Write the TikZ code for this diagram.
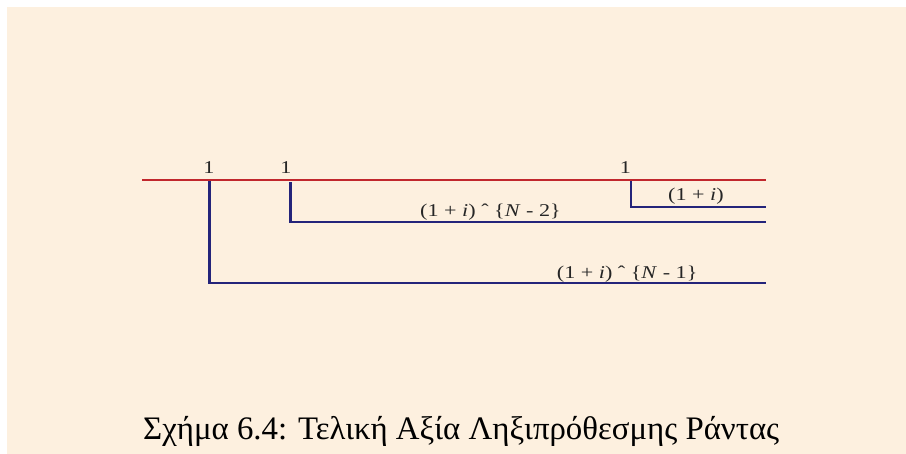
\documentclass[tikz,border=0pt]{standalone}
\usepackage{fontspec}
\usepackage{graphicx}
\newfontfamily\labfont{Liberation Serif}
\newfontfamily\capfont{Liberation Serif}
\definecolor{bgpeach}{HTML}{FDF0DF}
\definecolor{flowred}{HTML}{C1272D}
\definecolor{flowblue}{HTML}{24247A}
\newcommand\lbltext[1]{\scalebox{1.23}[1]{\labfont\fontsize{18}{18}\selectfont #1}}
\tikzset{
  timeline/.style={draw=flowred, line width=2pt},
  flowline/.style={draw=flowblue, line width=2.3pt, line join=miter},
  lbl/.style={inner sep=0pt, text=black!85, anchor=base},
  lblw/.style={inner sep=0pt, text=black!85, anchor=base west},
}
\begin{document}
\begin{tikzpicture}[x=1pt,y=-1pt]
\useasboundingbox (0,0) rectangle (906,454);
\fill[white] (0,0) rectangle (906,454);
\fill[bgpeach] (7,7) rectangle (906,454);
% coordinates
\coordinate (r0) at (142,180);
\coordinate (r1) at (766,180);
\coordinate (a0) at (209.5,181.5);
\coordinate (a1) at (209.5,283);
\coordinate (a2) at (766,283);
\coordinate (b0) at (290.5,182.5);
\coordinate (b1) at (290.5,221.7);
\coordinate (b2) at (766,221.7);
\coordinate (c0) at (631,181.5);
\coordinate (c1) at (631,207);
\coordinate (c2) at (766,207);
% lines
\draw[timeline] (r0) -- (r1);
\draw[flowline] (a0) -- (a1) -- (a2);
\draw[flowline] (b0) -- (b1) -- (b2);
\draw[flowline] (c0) -- (c1) -- (c2);
% labels
\node[lbl] (one1) at (209,173.3) {\lbltext{1}};
\node[lbl] (one2) at (286,173.3) {\lbltext{1}};
\node[lbl] (one3) at (625.5,173.3) {\lbltext{1}};
\node[lblw] (fv3) at (668,200.7) {\lbltext{(1 + \textit{i})}};
\node[lblw] (fv2) at (420,216.5) {\lbltext{(1 + \textit{i}) ˆ \{\textit{N} - 2\}}};
\node[lblw] (fv1) at (556.7,278.3) {\lbltext{(1 + \textit{i}) ˆ \{\textit{N} - 1\}}};
% caption
\node[inner sep=0pt, anchor=base west] (cap) at (143,439.3)
  {\resizebox{636pt}{!}{\capfont Σχήμα 6.4: Τελική Αξία Ληξιπρόθεσμης Ράντας}};
\end{tikzpicture}
\end{document}
